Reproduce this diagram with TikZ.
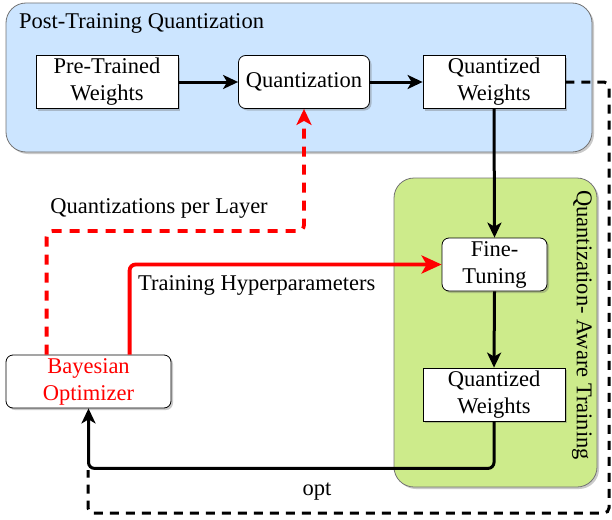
\documentclass[tikz,border=0pt]{standalone}
\usepackage{fontspec}
\setmainfont{Liberation Serif}
\usetikzlibrary{arrows.meta,shadows,calc}
\definecolor{ptqblue}{HTML}{CCE5FF}
\definecolor{qatgreen}{HTML}{CDEB8B}
\definecolor{redline}{HTML}{FF0000}
\begin{document}
\begin{tikzpicture}[x=1pt,y=-1pt,
  every node/.style={font=\fontsize{22.5}{27}\selectfont},
  shad/.style={drop shadow={opacity=0.35,shadow xshift=2pt,shadow yshift=-2pt,fill=black!60}},
  container/.style={draw=black!55,line width=0.8pt,rounded corners=20pt,shad},
  sqbox/.style={draw=black,line width=0.8pt,fill=white,align=center,inner sep=0pt,shad},
  rdbox/.style={sqbox,rounded corners=7pt},
  blk/.style={line width=3pt,draw=black,-{Stealth[length=15pt,width=14pt,inset=4pt]}},
  redsolid/.style={line width=3.8pt,draw=redline,rounded corners=6pt,-{Stealth[length=20pt,width=18pt,inset=5pt]}},
  reddash/.style={line width=3.8pt,draw=redline,dash pattern=on 10pt off 8pt,rounded corners=6pt,-{Stealth[length=16pt,width=15pt,inset=4pt]}},
  blkdash/.style={line width=3pt,draw=black,dash pattern=on 9pt off 7pt,rounded corners=5pt},
  lbl/.style={inner sep=0pt}
]
\useasboundingbox (0,0) rectangle (612,519);
% containers
\path[container,fill=ptqblue] (6,3) rectangle (592,152);
\path[container,fill=qatgreen] (394,178) rectangle (597,487);
\node[lbl,anchor=west] (title) at (19,23) {Post-Training Quantization};
\node[lbl,rotate=-90] (qat) at (582,325) {Quantization- Aware Training};

% boxes
\node[sqbox,minimum width=142pt,minimum height=53pt] (pt) at (107,82) {Pre-Trained\\Weights};
\node[rdbox,minimum width=131pt,minimum height=53pt] (q) at (304,82) {Quantization};
\node[sqbox,minimum width=142pt,minimum height=53pt] (qw1) at (494,82) {Quantized\\Weights};
\node[rdbox,minimum width=105pt,minimum height=53pt] (ft) at (494.5,264.5) {Fine-\\Tuning};
\node[sqbox,minimum width=142pt,minimum height=53pt] (qw2) at (494,394.5) {Quantized\\Weights};
\node[rdbox,minimum width=165pt,minimum height=53pt,text=redline] (bo) at (88.5,381.5) {Bayesian\\Optimizer};

% black arrows
\draw[blk] (pt) -- (q);
\draw[blk] (q) -- (qw1);
\draw[blk] (qw1.south) -- (ft.north);
\draw[blk] (ft.south) -- (qw2.north);
\draw[blk,rounded corners=6pt] (qw2.south) -- ++(0,47) -| (bo.south);

% dashed loop
\coordinate (dend) at (88,470);
\draw[blkdash] (qw1.east) -- (609,82) -- (609,513) -- (88,513) -- (dend);

% red connectors
\draw[reddash] ($(bo.north west)+(41,0)$) |- (304,231) -- (q.south);
\draw[redsolid] ($(bo.north west)+(124,0)$) |- (ft.west);

% labels
\node[lbl] (lq) at (159,208) {Quantizations per Layer};
\node[lbl,anchor=west] (lt) at (138,285) {Training Hyperparameters};
\node[lbl] (lo) at (317,492) {opt};
\end{tikzpicture}
\end{document}
